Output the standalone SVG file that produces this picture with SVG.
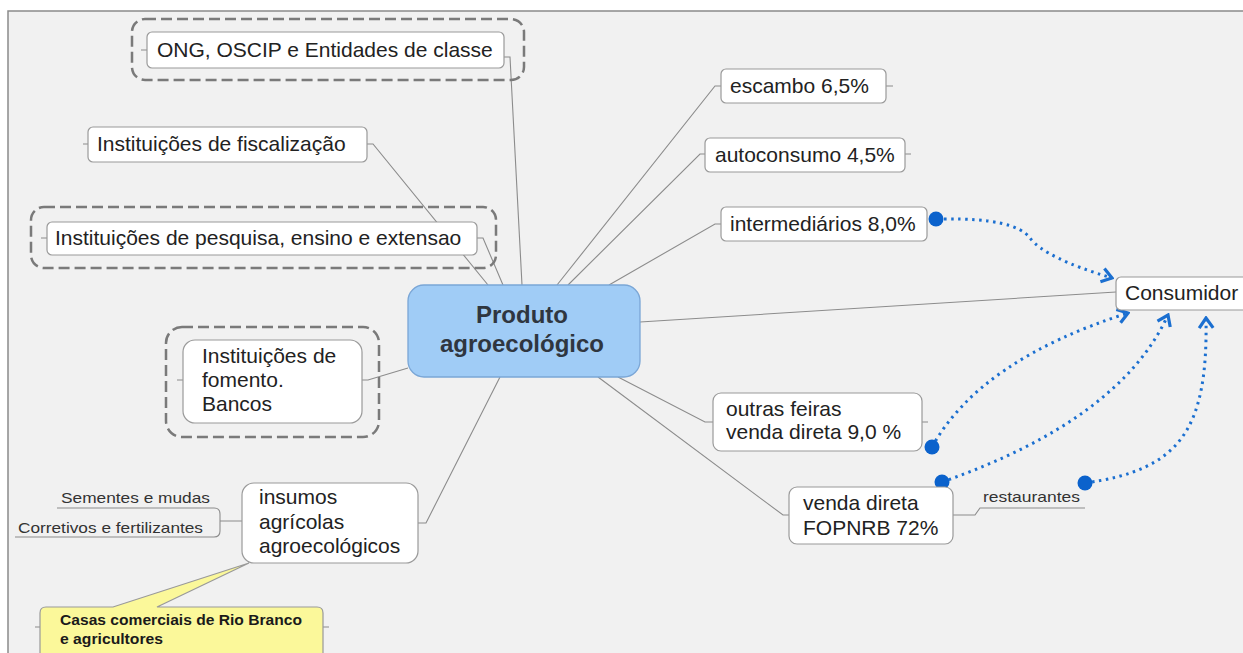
<svg xmlns="http://www.w3.org/2000/svg" width="1243" height="653" viewBox="0 0 1243 653">
<defs>
<style>
.box{fill:#fff;stroke:#9a9a9a;stroke-width:1.2}
.grp{fill:none;stroke:#7a7a7a;stroke-width:2.5;stroke-dasharray:11 5}
.lbl{font-family:"Liberation Sans",Arial,sans-serif;font-size:21px;fill:#222}
.small{font-family:"Liberation Sans",Arial,sans-serif;font-size:15px;fill:#333}
.ln{fill:none;stroke:#8c8c8c;stroke-width:1.1}
.rel{fill:none;stroke:#1b6fd0;stroke-width:3;stroke-dasharray:2.5 4.5}
.dot{fill:#0b62cc}
</style>
<marker id="arr" markerUnits="userSpaceOnUse" markerWidth="14" markerHeight="20" viewBox="-12 -10 14 20" refX="0" refY="0" orient="auto">
<path d="M-10,-7 L0,0 L-10,7" fill="none" stroke="#1b6fd0" stroke-width="3.2"/>
</marker>
</defs>
<rect x="0" y="0" width="1243" height="653" fill="#fff"/>
<rect x="8" y="11" width="1240" height="650" fill="#f1f1f1" stroke="#8a8a8a" stroke-width="1.5"/>

<g id="connectors">
<path class="ln" d="M522,285 L510,57 L504,57"/>
<path class="ln" d="M488,285 L373,144 L367,144"/>
<path class="ln" d="M503,285 L483,238 L477,238"/>
<path class="ln" d="M408,368 L368,380 L362,380"/>
<path class="ln" d="M500,377 L426,523 L418,523"/>
<path class="ln" d="M557,285 L715,86 L721,86"/>
<path class="ln" d="M568,285 L700,154 L705,154"/>
<path class="ln" d="M609,285 L715,224 L721,224"/>
<path class="ln" d="M640,322 L1116,292"/>
<path class="ln" d="M618,377 L705,422 L713,422"/>
<path class="ln" d="M598,377 L783,515 L789,515"/>
<path class="ln" d="M141,50 L147,50 M83,144 L88,144 M41,238 L47,238 M177,380 L183,380 M886,86 L893,86 M905,154 L911,154 M922,422 L928,422 M35,627 L40,627 M323,627 L329,627"/>
<path class="ln" d="M242,521 L220,521 M57,508 L214,508 Q220,508 220,514 L220,531 Q220,537 214,537 L15,537"/>
<path class="ln" d="M953,515 L975,515 L980,508 L1085,508"/>
<path class="rel" d="M944,219 Q1015,218 1030,238 T1112,278" marker-end="url(#arr)"/>
<path class="rel" d="M932,447 Q980,360 1128,313" marker-end="url(#arr)"/>
<path class="rel" d="M942,482 Q1120,420 1168,315" marker-end="url(#arr)"/>
<path class="rel" d="M1085,483 C1180,470 1208,430 1206,318" marker-end="url(#arr)"/>
<circle class="dot" cx="936" cy="219" r="7.5"/>
<circle class="dot" cx="932" cy="447" r="7.5"/>
<circle class="dot" cx="942" cy="482" r="7.5"/>
<circle class="dot" cx="1085" cy="483" r="7.5"/>
</g>

<g id="n-center">
<rect x="408" y="285" width="232" height="92" rx="16" fill="#a0ccf6" stroke="#7aa6d6" stroke-width="1.3"/>
<text x="522" y="323" text-anchor="middle" font-family="Liberation Sans, Arial, sans-serif" font-size="24" font-weight="bold" fill="#2f3640">Produto</text>
<text x="522" y="352" text-anchor="middle" font-family="Liberation Sans, Arial, sans-serif" font-size="24" font-weight="bold" fill="#2f3640">agroecológico</text>
</g>

<g id="n-ong">
<rect class="grp" x="132" y="19" width="392" height="61" rx="13"/>
<rect class="box" x="147" y="32" width="357" height="36" rx="5"/>
<text class="lbl" x="157" y="57">ONG, OSCIP e Entidades de classe</text>
</g>

<g id="n-fisc">
<rect class="box" x="88" y="127" width="279" height="35" rx="5"/>
<text class="lbl" x="97" y="151">Instituições de fiscalização</text>
</g>

<g id="n-pesq">
<rect class="grp" x="31" y="207" width="465" height="61" rx="13"/>
<rect class="box" x="47" y="222" width="430" height="33" rx="5"/>
<text class="lbl" x="55" y="245">Instituições de pesquisa, ensino e extensao</text>
</g>

<g id="n-fomento">
<rect class="grp" x="166" y="327" width="213" height="110" rx="16"/>
<rect class="box" x="183" y="340" width="179" height="83" rx="12"/>
<text class="lbl" x="202" y="363">Instituições de</text>
<text class="lbl" x="202" y="387">fomento.</text>
<text class="lbl" x="202" y="411">Bancos</text>
</g>

<g id="n-insumos">
<rect class="box" x="242" y="483" width="176" height="80" rx="12"/>
<text class="lbl" x="259" y="504">insumos</text>
<text class="lbl" x="259" y="529">agrícolas</text>
<text class="lbl" x="259" y="553">agroecológicos</text>
</g>

<g id="n-sementes">
<text class="small" x="61" y="503" textLength="149" lengthAdjust="spacingAndGlyphs">Sementes e mudas</text>
</g>
<g id="n-corretivos">
<text class="small" x="18" y="533" textLength="185" lengthAdjust="spacingAndGlyphs">Corretivos e fertilizantes</text>
</g>

<g id="n-casas">
<path d="M46,607 L113,607 L249,563 L157,607 L317,607 Q323,607 323,613 L323,662 L40,662 L40,613 Q40,607 46,607 Z" fill="#fbf89a" stroke="#999" stroke-width="1.2"/>
<text x="60" y="625" font-family="Liberation Sans, Arial, sans-serif" font-size="15" font-weight="bold" fill="#1a1a1a" textLength="242" lengthAdjust="spacingAndGlyphs">Casas comerciais de Rio Branco</text>
<text x="60" y="644" font-family="Liberation Sans, Arial, sans-serif" font-size="15" font-weight="bold" fill="#1a1a1a" textLength="103" lengthAdjust="spacingAndGlyphs">e agricultores</text>
</g>

<g id="n-escambo">
<rect class="box" x="721" y="69" width="165" height="34" rx="5"/>
<text class="lbl" x="730" y="93">escambo 6,5%</text>
</g>

<g id="n-autoconsumo">
<rect class="box" x="705" y="138" width="200" height="34" rx="5"/>
<text class="lbl" x="715" y="162">autoconsumo 4,5%</text>
</g>

<g id="n-intermediarios">
<rect class="box" x="721" y="207" width="206" height="34" rx="5"/>
<text class="lbl" x="730" y="231">intermediários 8,0%</text>
</g>

<g id="n-consumidor">
<rect class="box" x="1116" y="277" width="140" height="33" rx="5"/>
<text class="lbl" x="1125" y="300">Consumidor</text>
</g>

<g id="n-outras">
<rect class="box" x="713" y="393" width="209" height="58" rx="8"/>
<text class="lbl" x="726" y="416">outras feiras</text>
<text class="lbl" x="726" y="439">venda direta 9,0 %</text>
</g>

<g id="n-fopnrb">
<rect class="box" x="789" y="487" width="164" height="57" rx="8"/>
<text class="lbl" x="803" y="510">venda direta</text>
<text class="lbl" x="803" y="535">FOPNRB 72%</text>
</g>

<g id="n-restaurantes">
<text class="small" x="983" y="502" textLength="97" lengthAdjust="spacingAndGlyphs">restaurantes</text>
</g>
</svg>
